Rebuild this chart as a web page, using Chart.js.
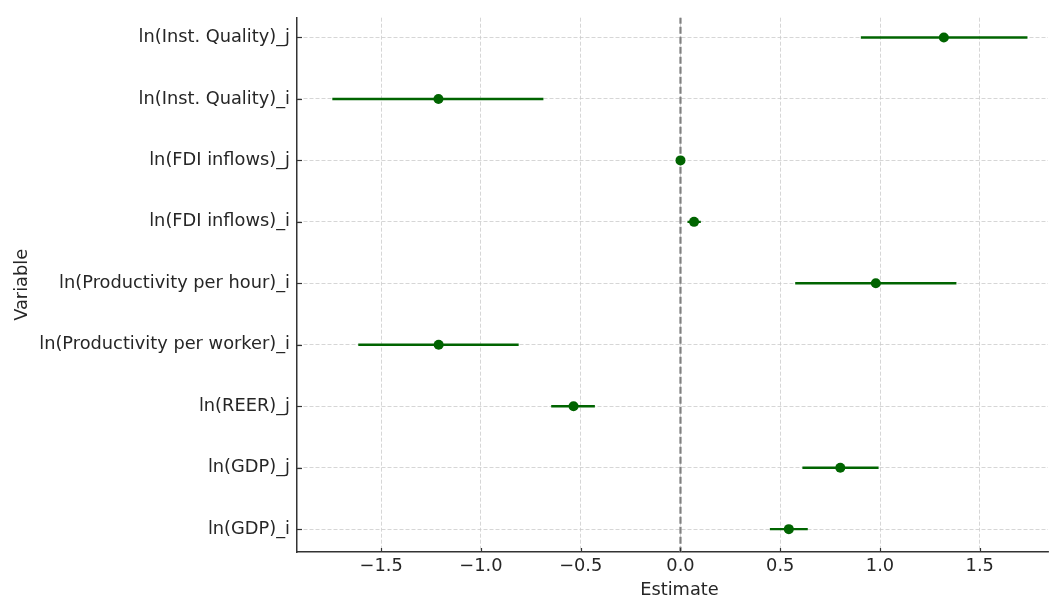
<!DOCTYPE html>
<html>
<head>
<meta charset="utf-8">
<script src="https://cdn.jsdelivr.net/npm/chart.js@4/dist/chart.umd.min.js"></script>
<style>
  html, body { margin: 0; padding: 0; background: #ffffff; overflow: hidden; }
  #wrap { width: 1053px; height: 596px; position: relative; }
</style>
</head>
<body>
<div id="wrap"><canvas id="c"></canvas></div>
<script>
// Variables listed bottom-to-top (index 0 at the bottom of the axis)
const variables = [
  "ln(GDP)_i",
  "ln(GDP)_j",
  "ln(REER)_j",
  "ln(Productivity per worker)_i",
  "ln(Productivity per hour)_i",
  "ln(FDI inflows)_i",
  "ln(FDI inflows)_j",
  "ln(Inst. Quality)_i",
  "ln(Inst. Quality)_j"
];
const estimates = [0.543, 0.801, -0.536, -1.212, 0.979, 0.068, 0.000, -1.213, 1.320];
const ciLower   = [0.448, 0.611, -0.648, -1.615, 0.575, 0.035, -0.004, -1.745, 0.904];
const ciUpper   = [0.638, 0.993, -0.429, -0.811, 1.383, 0.102, 0.004, -0.687, 1.739];
const xTicks = [-1.5, -1.0, -0.5, 0.0, 0.5, 1.0, 1.5];
const xTitle = 'Estimate';
const yTitle = 'Variable';

const GREEN = '#006400';
const TEXT = '#262626';
const FONT = "'DejaVu Sans', sans-serif";

const datasets = [];
// zero reference line
datasets.push({
  type: 'line',
  data: [{x: 0, y: -0.4}, {x: 0, y: 8.35}],
  borderColor: '#808080',
  borderWidth: 2.2,
  borderDash: [7, 3],
  pointRadius: 0,
  order: 3
});
// error bars
variables.forEach((v, i) => {
  datasets.push({
    type: 'line',
    data: [{x: ciLower[i], y: i}, {x: ciUpper[i], y: i}],
    borderColor: GREEN,
    borderWidth: 2.4,
    pointRadius: 0,
    order: 2
  });
});
// point estimates
datasets.push({
  type: 'scatter',
  data: estimates.map((e, i) => ({x: e, y: i})),
  backgroundColor: GREEN,
  borderColor: GREEN,
  pointRadius: 5,
  borderWidth: 0,
  order: 1
});

const decorations = {
  id: 'decorations',
  afterDatasetsDraw(chart) {
    const ctx = chart.ctx;
    const ys = chart.scales.y;
    const xs = chart.scales.x;
    const {left, bottom} = chart.chartArea;
    ctx.save();
    ctx.strokeStyle = '#333333';
    ctx.lineWidth = 1.2;
    variables.forEach((v, i) => {
      const py = Math.round(ys.getPixelForValue(i)) + 0.5;
      ctx.beginPath();
      ctx.moveTo(left, py);
      ctx.lineTo(left + 5, py);
      ctx.stroke();
    });
    xTicks.forEach((t) => {
      const px = Math.round(xs.getPixelForValue(t)) + 0.5;
      ctx.beginPath();
      ctx.moveTo(px, bottom);
      ctx.lineTo(px, bottom - 4);
      ctx.stroke();
    });
    // x axis title, centred on the full (uncropped) axes width
    ctx.fillStyle = TEXT;
    ctx.font = "17.8px 'DejaVu Sans', sans-serif";
    ctx.textAlign = 'center';
    ctx.textBaseline = 'middle';
    ctx.fillText(xTitle, xs.getPixelForValue(-0.005), bottom + 38);
    ctx.restore();
  }
};

new Chart(document.getElementById('c'), {
  type: 'scatter',
  data: { datasets },
  plugins: [decorations],
  options: {
    responsive: true,
    maintainAspectRatio: false,
    animation: false,
    layout: { padding: { left: 0, right: 0, top: 15, bottom: 0 } },
    plugins: { legend: { display: false }, tooltip: { enabled: false } },
    scales: {
      x: {
        type: 'linear',
        min: -1.922,
        max: 1.842,
        afterBuildTicks(scale) { scale.ticks = xTicks.map(v => ({value: v})); },
        afterFit(scale) { scale.height = 44; },
        ticks: {
          color: TEXT,
          font: { family: FONT, size: 17.8 },
          padding: 4,
          maxRotation: 0,
          callback: (v) => Number(v).toFixed(1).replace('-', '\u2212')
        },
        grid: {
          color: '#cccccc',
          lineWidth: 0.8,
          drawTicks: false
        },
        border: { display: true, color: '#333333', width: 1.5, dash: [4, 2] },
        title: { display: false }
      },
      y: {
        type: 'linear',
        min: -0.372,
        max: 8.322,
        afterBuildTicks(scale) { scale.ticks = variables.map((v, i) => ({value: i})); },
        afterFit(scale) { scale.width = 297; },
        ticks: {
          color: TEXT,
          font: { family: FONT, size: 17.8 },
          padding: 7,
          callback: (v) => variables[v]
        },
        grid: {
          color: '#cccccc',
          lineWidth: 0.8,
          drawTicks: false
        },
        border: { display: true, color: '#333333', width: 1.5, dash: [4, 2] },
        title: {
          display: true,
          text: yTitle,
          color: TEXT,
          font: { family: FONT, size: 17.8 },
          padding: { top: 12, bottom: 0 }
        }
      }
    }
  }
});
</script>
</body>
</html>
